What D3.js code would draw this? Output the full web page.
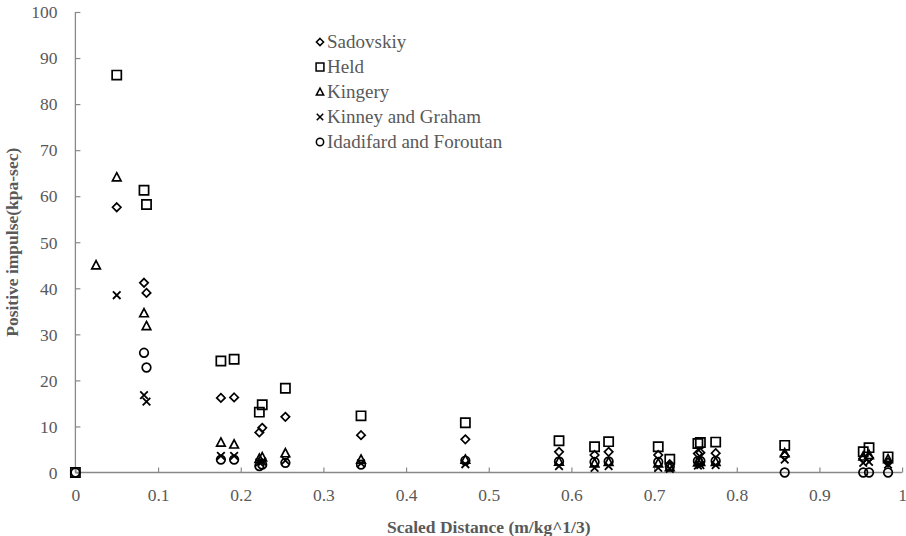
<!DOCTYPE html>
<html>
<head>
<meta charset="utf-8">
<script src="https://cdn.jsdelivr.net/npm/d3@7"></script>
<style>
  html, body { margin: 0; padding: 0; background: #fff; }
  svg { display: block; }
  text { font-family: "Liberation Serif", "Times New Roman", serif; }
</style>
</head>
<body>
<svg id="chart" width="906" height="536"></svg>
<script>
// Scaled distance (m/kg^1/3) for each series
const sadovskiyX = [0.050, 0.083, 0.086, 0.176, 0.192, 0.2225, 0.226, 0.254, 0.3455, 0.4717, 0.585, 0.628, 0.645, 0.705, 0.719, 0.753, 0.756, 0.7745, 0.858, 0.953, 0.960, 0.983];
const sadovskiyY = [57.6, 41.2, 39.0, 16.2, 16.3, 8.7, 9.7, 12.1, 8.1, 7.2, 4.5, 3.8, 4.5, 3.8, 1.8, 4.1, 4.3, 4.2, 3.6, 3.0, 3.2, 2.2];

const heldX = [0, 0.050, 0.083, 0.086, 0.176, 0.192, 0.2225, 0.226, 0.254, 0.3455, 0.4717, 0.585, 0.628, 0.645, 0.705, 0.719, 0.753, 0.756, 0.7745, 0.858, 0.953, 0.960, 0.983];
const heldY = [0, 86.3, 61.3, 58.2, 24.2, 24.6, 13.1, 14.7, 18.3, 12.3, 10.8, 6.9, 5.6, 6.7, 5.6, 2.9, 6.3, 6.5, 6.6, 5.9, 4.5, 5.4, 3.4];

const kingeryX = [0.025, 0.050, 0.083, 0.086, 0.176, 0.192, 0.2225, 0.226, 0.254, 0.3455, 0.4717, 0.585, 0.628, 0.645, 0.705, 0.719, 0.753, 0.756, 0.7745, 0.858, 0.953, 0.960, 0.983];
const kingeryY = [45.0, 64.1, 34.6, 31.8, 6.5, 6.1, 3.0, 3.3, 4.2, 2.8, 2.8, 2.4, 2.0, 2.3, 2.0, 1.2, 2.2, 2.3, 2.3, 4.2, 3.5, 3.8, 2.9];

const kinneyX = [0.050, 0.083, 0.086, 0.176, 0.192, 0.2225, 0.226, 0.254, 0.3455, 0.4717, 0.585, 0.628, 0.645, 0.705, 0.719, 0.753, 0.756, 0.7745, 0.858, 0.953, 0.960, 0.983];
const kinneyY = [38.5, 16.8, 15.4, 3.6, 3.6, 2.2, 2.4, 2.6, 2.0, 1.8, 1.4, 1.0, 1.4, 1.0, 0.8, 1.5, 1.6, 1.6, 2.8, 2.1, 2.3, 1.7];

const idadifardX = [0, 0.083, 0.086, 0.176, 0.192, 0.2225, 0.226, 0.254, 0.3455, 0.4717, 0.585, 0.628, 0.645, 0.705, 0.719, 0.753, 0.756, 0.7745, 0.858, 0.953, 0.960, 0.983];
const idadifardY = [0, 26.0, 22.8, 2.8, 2.8, 1.4, 1.7, 2.1, 1.7, 2.6, 2.4, 2.3, 2.4, 2.3, 1.3, 2.5, 2.5, 2.5, 0, 0, 0, 0];

const seriesNames = ["Sadovskiy", "Held", "Kingery", "Kinney and Graham", "Idadifard and Foroutan"];
const seriesShapes = ["diamond", "square", "triangle", "cross", "circle"];

const xTicks = [0, 0.1, 0.2, 0.3, 0.4, 0.5, 0.6, 0.7, 0.8, 0.9, 1];
const yTicks = [0, 10, 20, 30, 40, 50, 60, 70, 80, 90, 100];

const series = [
  { name: seriesNames[0], shape: seriesShapes[0], x: sadovskiyX, y: sadovskiyY },
  { name: seriesNames[1], shape: seriesShapes[1], x: heldX, y: heldY },
  { name: seriesNames[2], shape: seriesShapes[2], x: kingeryX, y: kingeryY },
  { name: seriesNames[3], shape: seriesShapes[3], x: kinneyX, y: kinneyY },
  { name: seriesNames[4], shape: seriesShapes[4], x: idadifardX, y: idadifardY }
];

const svg = d3.select("#chart");
const plotLeft = 75.4, plotRight = 902.1, plotTop = 12, plotBottom = 472.5;
const axisColor = "#898989";
const textColor = "#595959";

const x = d3.scaleLinear().domain([0, 1]).range([plotLeft, plotRight]);
const y = d3.scaleLinear().domain([0, 100]).range([plotBottom, plotTop]);

// Marker paths centred on the origin
function markerPath(shape) {
  switch (shape) {
    case "diamond": return "M0,-4.2L4.2,0L0,4.2L-4.2,0Z";
    case "square": return "M-4.6,-4.6H4.6V4.6H-4.6Z";
    case "triangle": return "M0,-4.6L4.3,3.6H-4.3Z";
    case "cross": return "M-3.8,-3.8L3.8,3.8M3.8,-3.8L-3.8,3.8";
    case "circle": return d3.arc()({ innerRadius: 0, outerRadius: 4.3, startAngle: 0, endAngle: 2 * Math.PI });
  }
}

// Y axis: ticks point into the plot
const yAxis = d3.axisRight(y).tickValues(yTicks).tickSize(5).tickFormat(d3.format("d"));
const gy = svg.append("g").attr("transform", `translate(${plotLeft},0)`).call(yAxis);
gy.select(".domain").attr("stroke", axisColor).attr("stroke-width", 1.3).attr("d", `M0,${plotTop}V${plotBottom}`);
gy.selectAll(".tick line").attr("stroke", axisColor).attr("stroke-width", 1.2);
gy.selectAll(".tick text")
  .attr("x", -18).attr("text-anchor", "end").attr("dy", "0.33em")
  .attr("fill", textColor).style("font-size", "17.5px").style("font-family", "Liberation Serif");

// X axis: ticks point up into the plot
const xAxis = d3.axisTop(x).tickValues(xTicks).tickSize(5).tickFormat(d => d === 0 || d === 1 ? String(d) : d3.format(".1f")(d));
const gx = svg.append("g").attr("transform", `translate(0,${plotBottom})`).call(xAxis);
gx.select(".domain").attr("stroke", axisColor).attr("stroke-width", 1.3).attr("d", `M${plotLeft},0H${plotRight}`);
gx.selectAll(".tick line").attr("stroke", axisColor).attr("stroke-width", 1.2);
gx.selectAll(".tick text")
  .attr("y", 23).attr("dy", "0.33em").attr("text-anchor", "middle")
  .attr("fill", textColor).style("font-size", "17.5px").style("font-family", "Liberation Serif");

// Data markers
const marks = svg.append("g");
series.forEach(s => {
  marks.selectAll(null)
    .data(s.x.map((v, i) => ({ x: v, y: s.y[i] })))
    .enter().append("path")
    .attr("transform", d => `translate(${x(d.x)},${y(d.y)})`)
    .attr("d", markerPath(s.shape))
    .attr("fill", "none")
    .attr("stroke", "#000")
    .attr("stroke-width", s.shape === "cross" ? 1.8 : 1.7);
});

// Legend
const legend = svg.append("g").attr("transform", "translate(320,42)");
series.forEach((s, i) => {
  const row = legend.append("g").attr("transform", `translate(0,${i * 25})`);
  row.append("path")
    .attr("d", markerPath(s.shape))
    .attr("transform", "scale(0.85)")
    .attr("fill", "none").attr("stroke", "#000").attr("stroke-width", 1.8);
  row.append("text")
    .attr("x", 7).attr("dy", "0.33em")
    .attr("fill", textColor).style("font-size", "19px")
    .text(s.name);
});

// Axis titles
svg.append("text")
  .attr("x", (plotLeft + plotRight) / 2).attr("y", 527).attr("dy", "0.33em")
  .attr("text-anchor", "middle").attr("fill", textColor)
  .style("font-size", "17.5px").style("font-weight", "bold")
  .text("Scaled Distance (m/kg^1/3)");

svg.append("text")
  .attr("transform", `translate(18,${(plotTop + plotBottom) / 2}) rotate(-90)`)
  .attr("text-anchor", "middle").attr("fill", textColor)
  .style("font-size", "17.5px").style("font-weight", "bold")
  .text("Positive impulse(kpa-sec)");
</script>
</body>
</html>
